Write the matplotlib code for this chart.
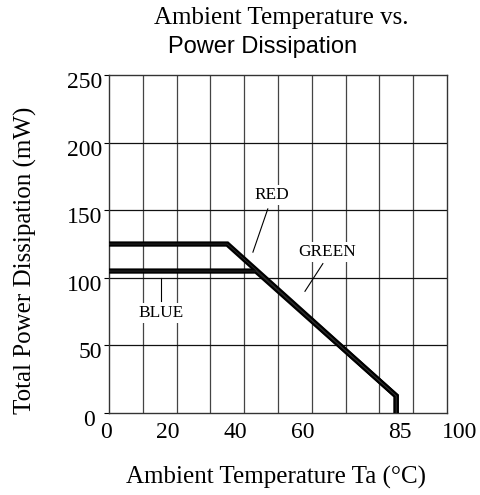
import numpy as np
import matplotlib.pyplot as plt
from matplotlib import transforms

# Derating curves
red_t = [0, 35, 85, 85]
red_p = [125, 125, 12.5, 0]
blue_t = [0, 43.5, 85, 85]
blue_p = [105, 105, 12.5, 0]

xtick_vals = [0, 20, 40, 60, 85, 100]
xtick_labels = ['0', '20', '40', '60', '85', '100']
# small horizontal shifts of the x labels in pixels, as in the picture
xtick_shift = [-3, -8.5, -8.5, -8.5, 4, 13]
ytick_vals = [0, 50, 100, 150, 200, 250]

serif = 'Liberation Serif'
sans = 'Liberation Sans'

fig = plt.figure(figsize=(4.8, 4.95), dpi=100)
ax = fig.add_axes([0.227, 0.166, 0.704, 0.682])

ax.set_xlim(0, 100)
ax.set_ylim(0, 250)

ax.set_yticks(ytick_vals)
ax.set_xticks(xtick_vals)
ax.set_xticklabels(xtick_labels)
# grid every 10 deg and every 50 mW
for v in np.arange(10, 100, 10):
    ax.axvline(v, color='#444444', lw=0.9, zorder=1)
for v in ytick_vals[1:-1]:
    ax.axhline(v, color='#111111', lw=0.9, zorder=1)

ax.tick_params(axis='x', which='both', length=0, pad=6.5)
ax.tick_params(axis='y', which='major', length=3.5, width=0.8, direction='out', pad=1.5)
for lab in ax.get_xticklabels() + ax.get_yticklabels():
    lab.set_fontfamily(serif)
    lab.set_fontsize(17)
for lab, dx in zip(ax.get_xticklabels(), xtick_shift):
    lab.set_transform(lab.get_transform() + transforms.ScaledTranslation(dx / 100, 0, fig.dpi_scale_trans))
for i, lab in enumerate(ax.get_yticklabels()):
    dx = -7 if i == 0 else 0
    lab.set_transform(lab.get_transform() + transforms.ScaledTranslation(dx / 100, -5 / 100, fig.dpi_scale_trans))

for s in ax.spines.values():
    s.set_linewidth(1.0)
    s.set_color('#333333')

# thick lines, with a faint lighter core like the scan
for t, p in [(red_t, red_p), (blue_t, blue_p)]:
    ax.plot(t, p, color='black', lw=3.8, solid_joinstyle='miter', zorder=3)
    ax.plot(t, p, color='#2e2e2e', lw=0.6, solid_joinstyle='miter', zorder=4)

# labels with leader lines
box = dict(facecolor='white', edgecolor='none', pad=1.5)
ax.text(48.2, 161, 'RED', fontfamily=serif, fontsize=12.4, ha='center', va='center', bbox=box, zorder=5)
ax.plot([47.0, 42.6], [151, 119], color='black', lw=0.8, zorder=5)
ax.text(64.5, 119, 'GREEN', fontfamily=serif, fontsize=12.4, ha='center', va='center', bbox=box, zorder=5)
ax.plot([63.3, 58.0], [110.5, 90], color='black', lw=0.8, zorder=5)
ax.text(15.4, 74, 'BLUE', fontfamily=serif, fontsize=12.4, ha='center', va='center', bbox=box, zorder=5)
ax.plot([15.4, 15.4], [100, 83], color='black', lw=0.8, zorder=5)

fig.text(0.575, 0.024, 'Ambient Temperature Ta (°C)', fontfamily=serif, fontsize=18, ha='center', va='baseline')
fig.text(0.052, 0.475, 'Total Power Dissipation (mW)', fontfamily=serif, fontsize=18,
         ha='center', va='center', rotation=90)

fig.text(0.585, 0.9515, 'Ambient Temperature vs.', fontfamily=serif, fontsize=18, ha='center', va='baseline')
fig.text(0.546, 0.893, 'Power Dissipation', fontfamily=sans, fontsize=17, ha='center', va='baseline')

fig.savefig('out.png', dpi=100)
